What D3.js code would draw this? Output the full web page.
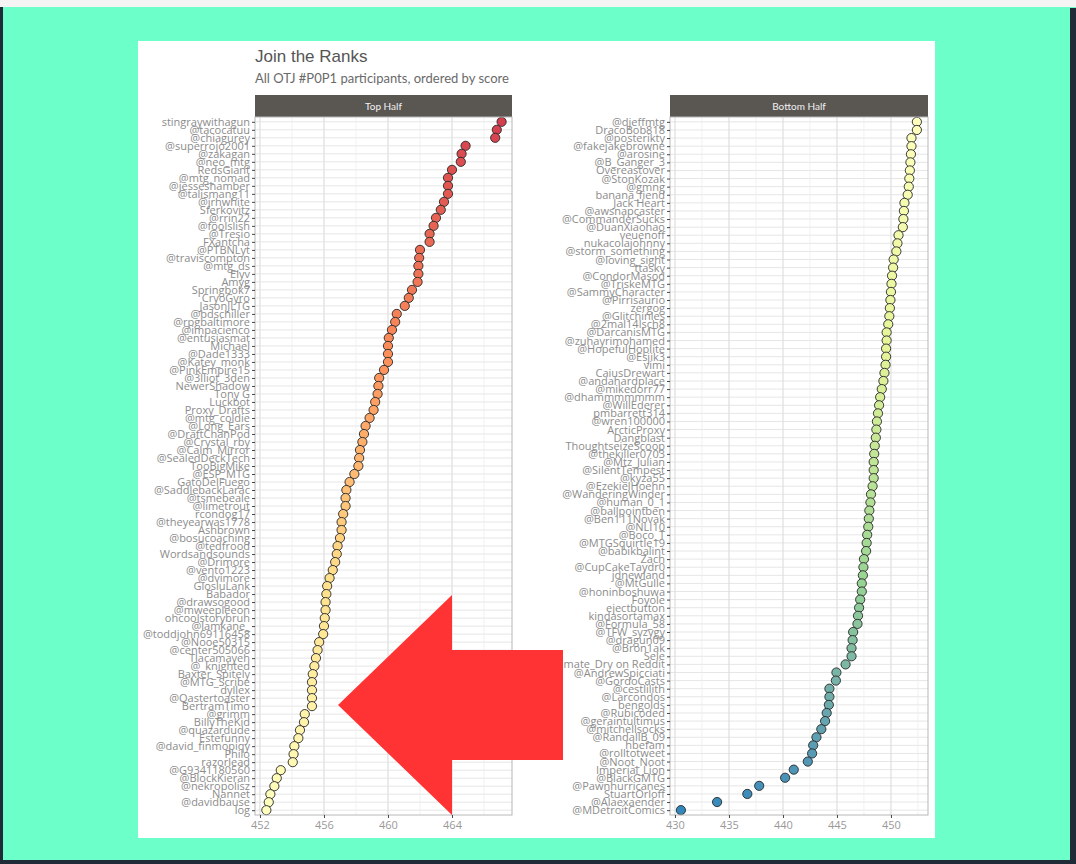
<!DOCTYPE html>
<html><head><meta charset="utf-8">
<script src="https://cdn.jsdelivr.net/npm/d3@7"></script>
<style>body{margin:0;background:#6cffc9;}svg{display:block}</style>
</head><body>
<svg id="c" width="1076" height="864"></svg>
<script>
const topNames=["stingraywithagun","@tacocatuu","@chiagurey","@superrojo2001","@zakagan","@neo_mtg","RedsGiant","@mtg_nomad","@jesseshamber","@talismang11","@jrhwhite","Sferkovitz","@rrin22","@foolslish","@Tresio","FXantcha","@PTBNLyt","@traviscompton","@mtg_ds","Elyv","Amyg","Springbok7","CryoGyro","JasonJLTG","@bdschiller","@rpgbaltimore","@impacienco","@entusiasmat","Michael","@Dade1333","@Katey_monk","@PinkEmpire15","@3lliot_3den","NewerShadow","Tony G","Luckbot","Proxy_Drafts","@mtg_coldie","@Long_Ears","@DraftChanPod","@Crystal_rby","@Calm_Mirror","@SealedDeckTech","TooBigMike","@ESP_MTG","GatoDelFuego","@SaddlebackLarac","@tsmebeale","@limetrout","rcondog17","@theyearwas1778","Ashbrown","@bosucoaching","@tedfrood","Wordsandsounds","@Drimore","@vento1223","@dvimore","GlosluLank","Babador","@drawsogood","@mweepleeon","ohcoolstorybruh","@lamkane_","@toddjohn69116458","@Nooe50315","@center505066","Tlacamayeh","@_knighted","Baxter_Spitely","@MTG_Scribe","dyllex","@Qastertoaster","BertramTimo","@grimm","BillyTheKid","@quazardude","Estefunny","@david_finmopiqy","Philo","razorlead","@G9341180560","@BlockKieran","@nekropolisz","Nannet","@davidbause","log"];
const topScores=[467.1,466.8,466.7,464.85,464.6,464.55,464.0,463.75,463.75,463.75,
463.5,463.3,463.0,462.85,462.6,462.6,462.0,461.95,461.9,461.9,
461.85,461.5,461.3,461.05,460.55,460.45,460.25,460.05,460.0,460.0,
460.0,459.75,459.45,459.4,459.35,459.2,459.1,458.85,458.6,458.5,
458.4,458.25,458.2,458.15,457.9,457.6,457.4,457.35,457.35,457.2,
457.1,457.1,457.0,456.85,456.8,456.7,456.55,456.35,456.2,456.15,
456.1,456.1,456.05,456.0,455.95,455.7,455.6,455.5,455.4,455.3,
455.25,455.25,455.25,455.25,454.8,454.75,454.5,454.4,454.15,454.1,
454.05,453.3,453.05,452.9,452.65,452.55,452.4];
const bottomNames=["@djeffmtg","DracoBob818","@posterikty","@fakejakebrowne","@arosine","@B_Ganger_3","Overeastover","@StonKozak","@gmng","banana_fiend","Jack Heart","@awsnapcaster","@CommanderSucks","@DuanXiaohao","veuenoff","nukacolajohnny","@storm_something","@loving_sight","ttasky","@CondorMasod","@TriskeMTG","@SammyCharacter","@Pirrisaurio","zergog","@Glitchinles","@2mal14lsch8","@DarcanisMTG","@zuhayrimohamed","@HopefulHoplite","@Esjik3","vimi","CaiusDrewart","@andahardplace","@mikedorr77","@dhammmmmmm","@WillEderer","pmbarrett314","@wren100000","ArcticProxy","Dangblast","ThoughtseizeScoop","@thekiller0703","@Mtz_Julian","@SilentTempest","@kyza55","@EzekielHoehn","@WanderingWinder","@human_0_1","@ballpointben","@Ben111Novak","@NLI10","@Boco_T","@MTGSquirtle19","@babikbalint","Zach","@CupCakeTaydr0","jdnewland","@MtGulle","@honinboshuwa","Foyole","ejectbutton","kindasortamax","@Formula_58","@TFW_syzygy","@dragun09","@Bron1ak","Sele","Ultimate_Dry on Reddit","@AndrewSpicciati","@GordoCasts","@cestlilith","@Larcondos","bengolds","@Rubicoded","@geraintultimus","@mitchellsocks","@RandallB_09","hbefam","@rolltotweet","@Noot_Noot","Imperial_Lion","@BlackGMTG","@Pawnhurricanes","StuartOrloff","@Alaexaender","@MDetroitComics"];
const bottomScores=[452.4,452.4,451.9,451.9,451.85,451.8,451.75,451.7,451.65,451.55,
451.25,451.2,451.15,451.1,450.7,450.6,450.5,450.25,450.2,450.1,
450.05,450.0,449.95,449.9,449.85,449.75,449.6,449.6,449.55,449.55,
449.5,449.4,449.3,449.15,449.0,448.9,448.8,448.7,448.65,448.6,
448.5,448.45,448.4,448.4,448.4,448.3,448.15,448.1,448.0,447.95,
447.9,447.8,447.75,447.7,447.5,447.45,447.4,447.3,447.3,447.15,
447.05,446.95,446.9,446.5,446.45,446.35,446.35,445.8,444.95,444.9,
444.3,444.3,444.25,444.05,443.9,443.55,443.1,442.8,442.7,442.3,
441.0,440.2,437.8,436.7,433.9,430.55];
const topTicks=[452,456,460,464];
const topMinor=[454,458,462,466];
const bottomTicks=[430,435,440,445,450];
const bottomMinor=[432.5,437.5,442.5,447.5,452.5];
const spectral7=["#d53e4f","#fc8d59","#fee08b","#ffffbf","#e6f598","#99d594","#3288bd"];
const titleText="Join the Ranks";
const subtitleText="All OTJ #P0P1 participants, ordered by score";
const panelTitles=["Top Half","Bottom Half"];
// annotation arrow overlaid on the screenshot (pixel space)
const arrowShape=[[338,705],[452,595],[452,650],[563,650],[563,760],[452,760],[452,815]];

const svg=d3.select("#c");
svg.append("rect").attr("width",1076).attr("height",864).attr("fill","#6cffc9");
svg.append("rect").attr("x",0).attr("y",0).attr("width",3).attr("height",864).attr("fill","#1f2b36");
svg.append("rect").attr("x",0).attr("y",860).attr("width",1076).attr("height",4).attr("fill","#1f2b36");
svg.append("rect").attr("x",1070).attr("y",8).attr("width",6).attr("height",856).attr("fill","#1f2b36");
svg.append("rect").attr("x",0).attr("y",0).attr("width",1076).attr("height",7).attr("fill","#f4f4f4");
svg.append("rect").attr("x",138).attr("y",41).attr("width",797).attr("height",797).attr("fill","#ffffff");

svg.append("text").attr("x",255).attr("y",62).text(titleText)
  .attr("font-family","Liberation Sans, Arial, sans-serif").attr("font-size",17).attr("fill","#555");
svg.append("text").attr("x",255).attr("y",83).text(subtitleText)
  .attr("font-family","Lato, sans-serif").attr("font-size",13).attr("fill","#6a6a6a");

// fill follows overall rank (1 = best) across both halves
const N=topNames.length+bottomNames.length;
const color=d3.scaleLinear()
  .domain(d3.range(7).map(i=>i*(N-1)/6))
  .range(spectral7).interpolate(d3.interpolateLab);

const panels=[
  {names:topNames,scores:topScores,offset:0,x0:255,x1:512,domain:[451.69,467.75],ticks:topTicks,minor:topMinor,title:panelTitles[0]},
  {names:bottomNames,scores:bottomScores,offset:topNames.length,x0:670,x1:928,domain:[429.54,453.43],ticks:bottomTicks,minor:bottomMinor,title:panelTitles[1]}
];
const pTop=117,pBot=815;
panels.forEach(p=>{
  const g=svg.append("g");
  const x=d3.scaleLinear().domain(p.domain).range([p.x0,p.x1]);
  const y=d3.scalePoint().domain(p.names).range([pTop,pBot]).padding(0.6);
  g.append("rect").attr("x",p.x0).attr("y",95).attr("width",p.x1-p.x0).attr("height",pTop-95).attr("fill","#5a5652");
  g.append("text").attr("x",(p.x0+p.x1)/2).attr("y",106).attr("text-anchor","middle").attr("dominant-baseline","central")
    .attr("font-family","Lato, sans-serif").attr("font-size",10).attr("fill","#f2f2f2").text(p.title);
  g.selectAll(".hg").data(p.names).enter().append("line")
    .attr("x1",p.x0).attr("x2",p.x1).attr("y1",d=>y(d)).attr("y2",d=>y(d)).attr("stroke","#e6e6e6").attr("stroke-width",1);
  g.selectAll(".mg").data(p.minor.filter(v=>v>p.domain[0]&&v<p.domain[1])).enter().append("line")
    .attr("x1",d=>x(d)).attr("x2",d=>x(d)).attr("y1",pTop).attr("y2",pBot).attr("stroke","#efefef").attr("stroke-width",0.8);
  g.selectAll(".vg").data(p.ticks).enter().append("line")
    .attr("x1",d=>x(d)).attr("x2",d=>x(d)).attr("y1",pTop).attr("y2",pBot).attr("stroke","#dedede").attr("stroke-width",1.2);
  g.selectAll("circle").data(p.names.map((n,i)=>({n,v:p.scores[i],r:p.offset+i}))).enter().append("circle")
    .attr("cx",d=>x(d.v)).attr("cy",d=>y(d.n)).attr("r",4.6)
    .attr("fill",d=>color(d.r)).attr("stroke","#262626").attr("stroke-width",0.9);
  g.append("rect").attr("x",p.x0).attr("y",pTop).attr("width",p.x1-p.x0).attr("height",pBot-pTop)
    .attr("fill","none").attr("stroke","#b8b8b8").attr("stroke-width",1);
  const ya=g.append("g").attr("transform",`translate(${p.x0},0)`).call(d3.axisLeft(y).tickSize(3).tickPadding(2));
  ya.select(".domain").remove();
  ya.selectAll("line").attr("stroke","#444");
  ya.selectAll("text").attr("font-family","Open Sans, sans-serif").attr("font-size",11).attr("fill","#8c8c8c");
  const xa=g.append("g").attr("transform",`translate(0,${pBot})`).call(d3.axisBottom(x).tickValues(p.ticks).tickSize(3).tickPadding(3).tickFormat(d3.format("d")));
  xa.select(".domain").remove();
  xa.selectAll("line").attr("stroke","#444");
  xa.selectAll("text").attr("font-family","Open Sans, sans-serif").attr("font-size",11).attr("fill","#999");
});

svg.append("polygon").attr("points",arrowShape.map(d=>d.join(",")).join(" ")).attr("fill","#ff3333");
</script>
</body></html>
